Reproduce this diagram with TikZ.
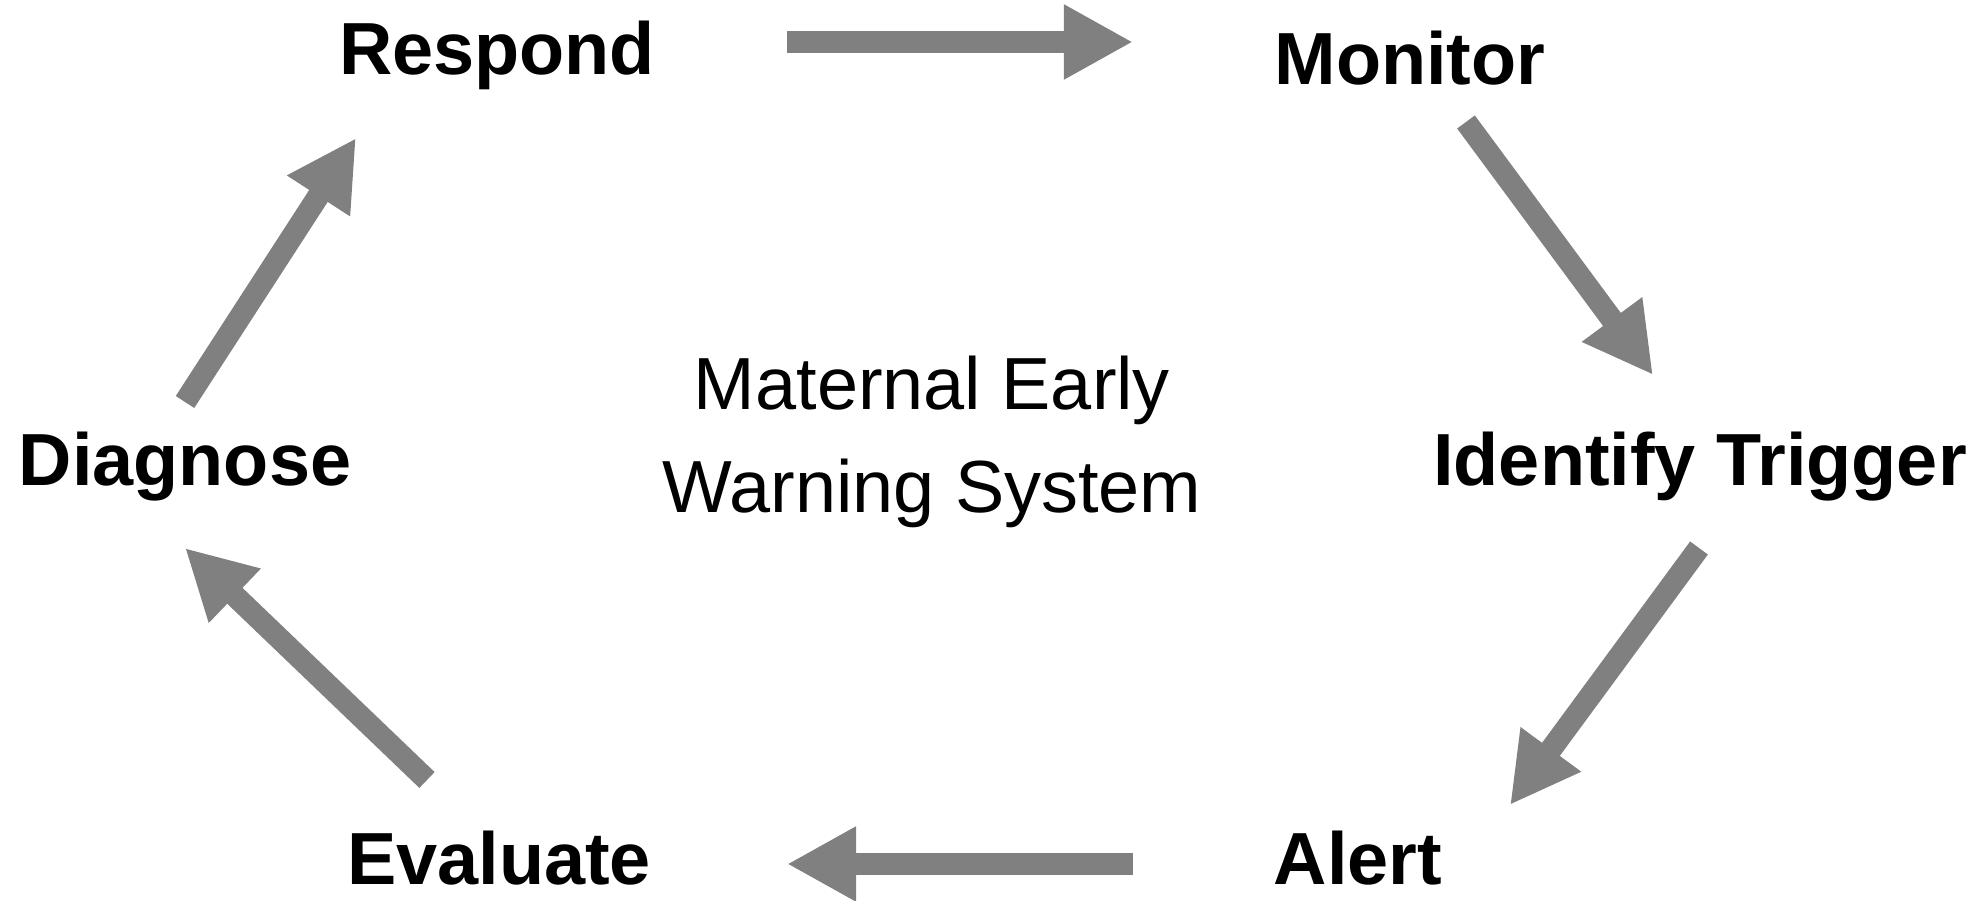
\documentclass[tikz,border=0pt]{standalone}
\usepackage{fontspec}
\setmainfont{Liberation Sans}
\usepackage{tikz}
\usetikzlibrary{arrows.meta}
\tikzset{>/.tip={Triangle[length=0.69cm,width=0.70cm]}}
\definecolor{arrowgray}{RGB}{128,128,128}

\begin{document}
\begin{tikzpicture}[x=0.01cm,y=-0.01cm,
  step label/.style={anchor=base,inner sep=0pt,font=\fontsize{21}{25}\selectfont\bfseries},
  block arrow/.style={->,draw=arrowgray,line width=0.22cm}]
\useasboundingbox (0,0) rectangle (1987,901);

\node[step label] (respond) at (497,75) {Respond};
\node[step label] (monitor) at (1410,85) {Monitor};
\node[step label] (trigger) at (1700,486) {Identify Trigger};
\node[step label] (alert) at (1358,885) {Alert};
\node[step label] (evaluate) at (499,885) {Evaluate};
\node[step label] (diagnose) at (185,486) {Diagnose};

\node[anchor=base,inner sep=0pt,align=center,font=\fontsize{21}{29.5}\selectfont] (mews) at (932,513) {Maternal Early\\Warning System};

% arrow ends
\coordinate (r-m1) at (787,42);
\coordinate (r-m2) at (1133,42);
\coordinate (m-t1) at (1466,122);
\coordinate (m-t2) at (1653,375);
\coordinate (t-a1) at (1699,548);
\coordinate (t-a2) at (1510,805);
\coordinate (a-e1) at (1133,864);
\coordinate (a-e2) at (787,864);
\coordinate (e-d1) at (427,780);
\coordinate (e-d2) at (185,548);
\coordinate (d-r1) at (185,402);
\coordinate (d-r2) at (356,138);

\draw[block arrow] (r-m1) -- (r-m2);
\draw[block arrow] (m-t1) -- (m-t2);
\draw[block arrow] (t-a1) -- (t-a2);
\draw[block arrow] (a-e1) -- (a-e2);
\draw[block arrow] (e-d1) -- (e-d2);
\draw[block arrow] (d-r1) -- (d-r2);
\end{tikzpicture}
\end{document}
